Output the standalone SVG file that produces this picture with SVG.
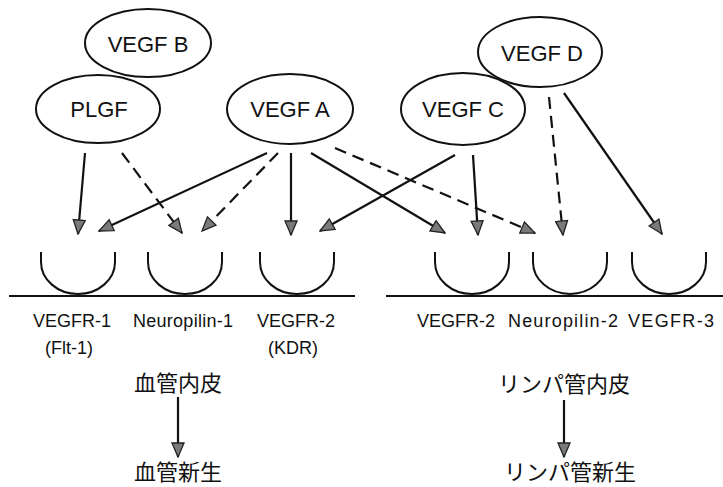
<svg xmlns="http://www.w3.org/2000/svg" width="723" height="487" viewBox="0 0 723 487">
<defs>
<marker id="ah" markerUnits="userSpaceOnUse" markerWidth="16" markerHeight="14" viewBox="0 0 16 14" refX="15" refY="7" orient="auto">
<path d="M1,1 L15,7 L1,13 Z" fill="#7a7a7a" stroke="#222" stroke-width="1.3" stroke-linejoin="miter"/>
</marker>
</defs>
<style>
.n ellipse{fill:#fff;stroke:#111;stroke-width:2}
.t{font-family:"Liberation Sans",Arial,sans-serif;fill:#111;text-anchor:middle}
.nt{font-size:22px}
.rt{font-size:18px}
.jt{font-family:"Noto Sans CJK JP","Noto Sans CJK SC",sans-serif;font-size:22px;fill:#111;text-anchor:middle}
.c path,.c line{fill:none;stroke:#111;stroke-width:2.2}
.s{marker-end:url(#ah)}
.d{stroke-dasharray:12 7;marker-end:url(#ah)}
.cup{fill:none;stroke:#111;stroke-width:2}
.mem{stroke:#111;stroke-width:2.2}
</style>
<rect width="723" height="487" fill="#fff"/>

<g id="vegfb" class="n"><ellipse cx="148" cy="43" rx="63" ry="34"/><text class="t nt" x="148" y="52">VEGF B</text></g>
<g id="plgf" class="n"><ellipse cx="98" cy="109" rx="62" ry="34"/><text class="t nt" x="99" y="117">PLGF</text></g>
<g id="vegfa" class="n"><ellipse cx="290" cy="109" rx="63" ry="35"/><text class="t nt" x="290" y="117">VEGF A</text></g>
<g id="vegfc" class="n"><ellipse cx="463" cy="109" rx="62" ry="36"/><text class="t nt" x="463" y="117">VEGF C</text></g>
<g id="vegfd" class="n"><ellipse cx="540" cy="52" rx="62" ry="35"/><text class="t nt" x="542" y="61">VEGF D</text></g>

<g id="connectors" class="c">
<line class="s" x1="85" y1="153" x2="78" y2="234"/>
<line class="d" x1="122" y1="153" x2="182" y2="233"/>
<line class="s" x1="267" y1="153" x2="99" y2="231"/>
<line class="d" x1="278" y1="153" x2="202" y2="231"/>
<line class="s" x1="291" y1="153" x2="291" y2="235"/>
<line class="s" x1="311" y1="153" x2="445" y2="233"/>
<line class="d" x1="335" y1="148" x2="535" y2="233"/>
<line class="s" x1="455" y1="155" x2="320" y2="231"/>
<line class="s" x1="473" y1="155" x2="478" y2="235"/>
<line class="d" x1="549" y1="97" x2="563" y2="235"/>
<line class="s" x1="564" y1="93" x2="662" y2="234"/>
<line class="s" x1="178" y1="397" x2="178" y2="457"/>
<line class="s" x1="564" y1="400" x2="564" y2="457"/>
</g>

<g id="receptors">
<path class="cup" d="M41,252 L41,262 A37,32 0 0 0 115,262 L115,252"/>
<path class="cup" d="M148,252 L148,262 A37,32 0 0 0 222,262 L222,252"/>
<path class="cup" d="M260,252 L260,262 A37,32 0 0 0 334,262 L334,252"/>
<path class="cup" d="M435,252 L435,262 A37,32 0 0 0 509,262 L509,252"/>
<path class="cup" d="M533,252 L533,262 A37,32 0 0 0 607,262 L607,252"/>
<path class="cup" d="M632,252 L632,262 A37,32 0 0 0 706,262 L706,252"/>
<line class="mem" x1="9" y1="296" x2="355" y2="296"/>
<line class="mem" x1="386" y1="296" x2="723" y2="296"/>
</g>

<g id="labels">
<text class="t rt" x="72" y="327" textLength="78">VEGFR-1</text>
<text class="t rt" x="69" y="354">(Flt-1)</text>
<text class="t rt" x="183" y="327" textLength="100">Neuropilin-1</text>
<text class="t rt" x="296" y="327" textLength="78">VEGFR-2</text>
<text class="t rt" x="293" y="354">(KDR)</text>
<text class="t rt" x="456" y="327" textLength="78">VEGFR-2</text>
<text class="t rt" x="563" y="327" textLength="110">Neuropilin-2</text>
<text class="t rt" x="671" y="327" textLength="86">VEGFR-3</text>
<text class="jt" x="178" y="391">血管内皮</text>
<text class="jt" x="178" y="480">血管新生</text>
<text class="jt" x="564" y="392">リンパ管内皮</text>
<text class="jt" x="570" y="480">リンパ管新生</text>
</g>
</svg>
